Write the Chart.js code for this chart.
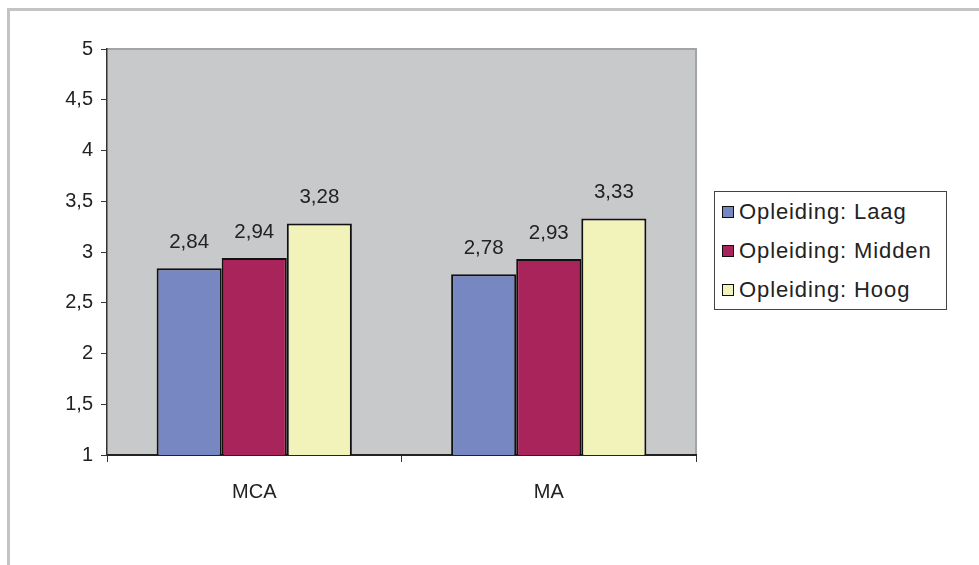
<!DOCTYPE html>
<html>
<head>
<meta charset="utf-8">
<title>Opleiding</title>
<script src="https://cdn.jsdelivr.net/npm/chart.js@4"></script>
<style>
    html, body { margin: 0; padding: 0; background: #fff; }
    .wrap { position: relative; width: 979px; height: 565px; overflow: hidden; }
    .frame { position: absolute; left: 7px; top: 8px; width: 990px; height: 600px;
             border-top: 3px solid #c4c4c6; border-left: 3px solid #c4c4c6; }
    canvas { position: absolute; left: 0; top: 0; }
    .legend { position: absolute; left: 714px; top: 191px; width: 233px; height: 119px;
              border: 1px solid #444; background: #fff; box-sizing: border-box;
              font-family: "Liberation Sans", Arial, sans-serif; font-size: 22px; color: #222;
              letter-spacing: 0.9px; }
    .legend .item { position: absolute; left: 7px; height: 24px; line-height: 24px; white-space: nowrap; }
    .legend .box { display: inline-block; width: 10px; height: 10px; border: 1.5px solid #111;
                   margin-right: 5px; vertical-align: 1px; }
</style>
</head>
<body>
<div class="wrap">
    <div class="frame"></div>
    <canvas id="chart" width="979" height="565"></canvas>
    <div class="legend" id="legend"></div>
</div>
<script>
const categories = ["MCA", "MA"];
const series_names = ["Opleiding: Laag", "Opleiding: Midden", "Opleiding: Hoog"];
const series_colors = ["#7787c1", "#a9245b", "#f2f2bb"];
const laag = [2.84, 2.78];
const midden = [2.94, 2.93];
const hoog = [3.28, 3.33];
const y_min = 1;
const y_max = 5;
const y_step = 0.5;

const fmt = (v) => String(v).replace(".", ",");
const FONT = "'Liberation Sans', Arial, sans-serif";

// plot area background + light top/right border
const plotBackground = {
    id: "plotBackground",
    beforeDraw: (chart) => {
        const { ctx, chartArea: a } = chart;
        ctx.save();
        ctx.fillStyle = "#c8c9cb";
        ctx.fillRect(a.left, a.top, a.right - a.left, a.bottom - a.top);
        ctx.strokeStyle = "#a4a4a6";
        ctx.lineWidth = 2;
        ctx.beginPath();
        ctx.moveTo(a.left, a.top);
        ctx.lineTo(a.right, a.top);
        ctx.lineTo(a.right, a.bottom);
        ctx.stroke();
        ctx.restore();
    },
};

// value labels above bars
const valueLabels = {
    id: "valueLabels",
    afterDatasetsDraw: (chart) => {
        const { ctx } = chart;
        ctx.save();
        ctx.font = `20.5px ${FONT}`;
        ctx.fillStyle = "#222";
        ctx.textAlign = "center";
        ctx.textBaseline = "middle";
        chart.data.datasets.forEach((ds, i) => {
            chart.getDatasetMeta(i).data.forEach((bar, j) => {
                ctx.fillText(fmt(ds.data[j]), bar.x, bar.y - 26);
            });
        });
        ctx.restore();
    },
};

document.addEventListener("DOMContentLoaded", () => {
    const values = [laag, midden, hoog];

    const legend = document.querySelector("#legend");
    legend.innerHTML = series_names.map((name, i) =>
        `<div class="item" style="top:${8 + i * 39}px"><span class="box" style="background:${series_colors[i]}"></span>${name}</div>`
    ).join("");

    const ctx = document.querySelector("#chart");

    new Chart(ctx, {
        type: "bar",
        data: {
            labels: categories,
            datasets: series_names.map((name, i) => ({
                label: name,
                data: values[i],
                backgroundColor: series_colors[i],
                borderColor: "#111",
                borderWidth: 2,
                borderSkipped: "bottom",
                categoryPercentage: 0.663,
                barPercentage: 1,
            })),
        },
        options: {
            responsive: false,
            animation: false,
            layout: { padding: { left: 0, top: 49, right: 283, bottom: 0 } },
            plugins: {
                legend: { display: false },
                tooltip: { enabled: false },
            },
            scales: {
                x: {
                    afterFit: (scale) => { scale.height = 110; },
                    grid: {
                        display: true,
                        drawOnChartArea: false,
                        drawTicks: true,
                        tickLength: 7,
                        color: "#333",
                        offset: true,
                    },
                    border: { color: "#222", width: 2 },
                    ticks: {
                        color: "#222",
                        padding: 18,
                        font: { family: FONT, size: 20 },
                    },
                },
                y: {
                    min: y_min,
                    max: y_max,
                    afterFit: (scale) => { scale.width = 107; },
                    grid: {
                        display: true,
                        drawOnChartArea: false,
                        drawTicks: true,
                        tickLength: 6,
                        color: "#333",
                    },
                    border: { color: "#333", width: 1.5 },
                    ticks: {
                        stepSize: y_step,
                        color: "#222",
                        padding: 8,
                        font: { family: FONT, size: 20 },
                        callback: (v) => fmt(v),
                    },
                },
            },
        },
        plugins: [plotBackground, valueLabels],
    });
});
</script>
</body>
</html>
